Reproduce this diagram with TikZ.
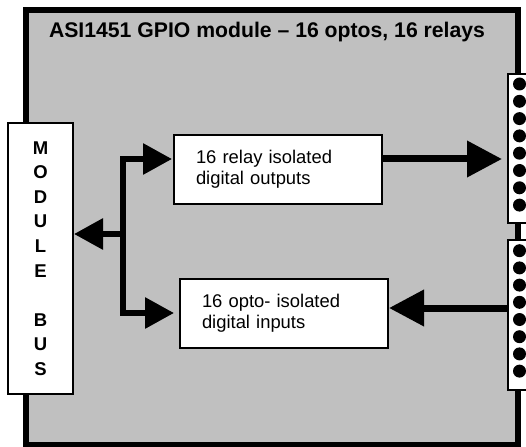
\documentclass[tikz,border=0pt]{standalone}
\usepackage{fontspec}
\setmainfont{Liberation Sans}
\usetikzlibrary{arrows.meta,calc}
\definecolor{panelgrey}{RGB}{192,192,192}
\begin{document}
\begin{tikzpicture}[x=1pt,y=-1pt,
  whitebox/.style={draw=black,line width=2pt,fill=white,rectangle,inner sep=0pt},
  textbox/.style={whitebox,minimum width=208pt,minimum height=69pt,text width=164pt,align=left,
    font=\fontsize{18.4}{21}\selectfont},
  busarrow/.style={line width=6pt,-{Triangle[length=29pt,width=30pt]}},
  bigarrow/.style={line width=7pt,-{Triangle[length=35pt,width=35pt]}},
  dot/.style={fill=black}]
\useasboundingbox (0,0) rectangle (526,446);
% module panel
\node[draw=black,line width=6pt,fill=panelgrey,rectangle,inner sep=0pt,
  minimum width=492pt,minimum height=434.5pt] (module) at (272,227.25) {};
\node[anchor=base,font=\bfseries\fontsize{21.2}{25}\selectfont] (title) at (267,38)
  {ASI1451 GPIO module – 16 optos, 16 relays};
% connector strips
\node[whitebox,minimum width=26pt,minimum height=149.3pt,anchor=north west] (conn1) at (507,72.7) {};
\node[whitebox,minimum width=26pt,minimum height=150pt,anchor=north west] (conn2) at (507,239) {};
\foreach \i in {0,...,7}{
  \fill[dot] (519.5,84+17.3*\i) circle (6.5);
  \fill[dot] (519.5,250.7+17.2*\i) circle (6.5);
}
% module bus
\node[whitebox,minimum width=65pt,minimum height=271pt,align=center,
  font=\bfseries\fontsize{18.5}{24.56}\selectfont] (bus) at (40.5,258.5)
  {M\\O\\D\\U\\L\\E\\[24.56pt]B\\U\\S};
% function boxes
\node[textbox] (relay) at (278,169.5) {16 relay isolated\\digital outputs};
\node[textbox] (opto) at (284,313) {16 opto- isolated\\digital inputs};
% connectors
\coordinate (j) at (123,234);
\coordinate (rin) at ($(relay.west)+(0,-10.5)$);
\coordinate (rout) at ($(relay.east)+(0,-10.5)$);
\coordinate (oin) at ($(opto.east)+(0,-5)$);
\draw[busarrow] (j) -- (j -| bus.east);
\draw[busarrow,shorten >=1pt] (j) |- (rin);
\draw[busarrow,shorten >=5pt] (j) |- (opto.west);
\draw[bigarrow,shorten >=5pt] (rout) -- (rout -| conn1.west);
\draw[bigarrow] (conn2.west |- oin) -- (oin);
\end{tikzpicture}
\end{document}
